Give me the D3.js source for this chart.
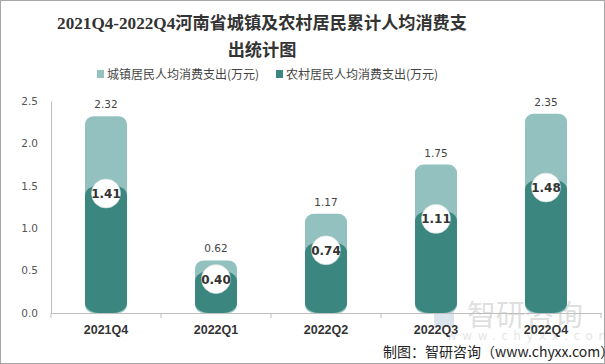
<!DOCTYPE html>
<html><head><meta charset="utf-8">
<script src="https://cdn.jsdelivr.net/npm/d3@7"></script>
<style>
html,body{margin:0;padding:0;background:#fff;}
svg{display:block;}
</style></head>
<body>
<svg id="chart" width="605" height="364"></svg>
<script>
const categories = ["2021Q4","2022Q1","2022Q2","2022Q3","2022Q4"];
const urbanValues = [2.32, 0.62, 1.17, 1.75, 2.35];
const ruralValues = [1.41, 0.40, 0.74, 1.11, 1.48];
const seriesNames = ["城镇居民人均消费支出(万元)","农村居民人均消费支出(万元)"];
const yTicks = [0, 0.5, 1.0, 1.5, 2.0, 2.5];
const titleLines = ["2021Q4-2022Q4河南省城镇及农村居民累计人均消费支","出统计图"];
const sourceText = "制图：智研咨询（www.chyxx.com）";
const watermarkText = "智研咨询";
const watermarkUrl = "www.chyxx.com";

const W = 605, H = 364;
const colUrban = "#92c1bf", colRural = "#3b877f";
const svg = d3.select("#chart");

svg.append("rect").attr("x",0.5).attr("y",0.5).attr("width",W-1).attr("height",H-1)
  .attr("fill","#fff").attr("stroke","#a6a6a6");

const x = d3.scaleBand().domain(categories).range([51, 601]).padding(0);
const y = d3.scaleLinear().domain([0, 2.5]).range([313, 101]);

// title (fit first line to the reference width of ~410px)
const title = svg.append("text").attr("text-anchor","middle")
  .attr("font-family","'Liberation Serif','Noto Sans CJK SC',serif")
  .attr("font-weight","bold").attr("font-size",18).attr("fill","#333");
const tspans = titleLines.map((t,i)=>title.append("tspan").attr("x",262).attr("y",29+i*27).text(t));
const len = tspans[0].node().getComputedTextLength();
if (len > 0) title.attr("font-size", Math.min(20, 18 * 410 / len));

// legend
const legend = svg.append("g").attr("font-family","'Noto Sans CJK SC',sans-serif").attr("font-size",12).attr("fill","#444");
const legX = [97, 276];
seriesNames.forEach((n,i)=>{
  legend.append("rect").attr("x",legX[i]).attr("y",70).attr("width",7).attr("height",8)
    .attr("fill", i===0?colUrban:colRural);
  legend.append("text").attr("x",legX[i]+10).attr("y",78.5).text(n);
});

// watermark (behind bars)
const wm = svg.append("g").attr("opacity",0.3);
wm.append("rect").attr("x",434).attr("y",307).attr("width",20).attr("height",20).attr("rx",3).attr("fill","#8aa6c4");
wm.append("text").attr("x",467).attr("y",326).attr("font-family","'Noto Sans CJK SC',sans-serif")
  .attr("font-size",29).attr("fill","#999").text(watermarkText);
wm.append("text").attr("x",447).attr("y",340).attr("font-family","'DejaVu Sans',sans-serif")
  .attr("font-size",12).attr("letter-spacing",5.5).attr("fill","#aaa").text(watermarkUrl);

// y axis
const yAxis = svg.append("g").attr("transform","translate(51,0)")
  .call(d3.axisLeft(y).tickValues(yTicks).tickFormat(d3.format(".1f")).tickSize(0).tickPadding(13));
yAxis.select(".domain").attr("stroke","#bfbfbf");
yAxis.selectAll("text").attr("font-family","'DejaVu Sans',sans-serif").attr("font-size",10.5).attr("fill","#555");

// x axis
const xAxis = svg.append("g").attr("transform","translate(0,313)")
  .call(d3.axisBottom(x).tickSize(0).tickPadding(12));
xAxis.select(".domain").attr("stroke","#bfbfbf");
xAxis.selectAll("text").attr("font-family","'Liberation Sans','DejaVu Sans',sans-serif")
  .attr("font-weight","bold").attr("font-size",12.5).attr("fill","#333");
const edges = categories.map(c=>x(c)).concat([x.range()[1]]);
svg.append("g").selectAll("line").data(edges).join("line")
  .attr("x1",d=>d).attr("x2",d=>d)
  .attr("y1",313).attr("y2",318).attr("stroke","#bfbfbf");

const bw = 42;
const cx = d => x(d) + x.bandwidth()/2;
const bars = svg.append("g");
categories.forEach((c,i)=>{
  const u = urbanValues[i], r = ruralValues[i];
  bars.append("rect").attr("x",cx(c)-bw/2).attr("y",y(u)).attr("width",bw).attr("height",y(0)-y(u))
    .attr("rx",9).attr("ry",8).attr("fill",colUrban);
  bars.append("rect").attr("x",cx(c)-bw/2).attr("y",y(r)-8).attr("width",bw).attr("height",y(0)-y(r)+8)
    .attr("rx",14).attr("ry",10).attr("fill",colRural);
  bars.append("text").attr("x",cx(c)).attr("y",y(u)-8).attr("text-anchor","middle")
    .attr("font-family","'DejaVu Sans',sans-serif").attr("font-size",10.5).attr("fill","#444")
    .text(d3.format(".2f")(u));
  bars.append("circle").attr("cx",cx(c)).attr("cy",y(r)).attr("r",14.5)
    .attr("fill","#fff").attr("stroke","#d0d8d8").attr("stroke-width",0.6);
  bars.append("text").attr("x",cx(c)).attr("y",y(r)+4.5).attr("text-anchor","middle")
    .attr("font-family","'DejaVu Sans',sans-serif").attr("font-weight","bold").attr("font-size",12).attr("fill","#333")
    .text(d3.format(".2f")(r));
});

// source
svg.append("text").attr("x",383).attr("y",357).attr("font-family","'Noto Sans CJK SC',sans-serif")
  .attr("font-size",14).attr("fill","#222").text(sourceText);
</script>
</body></html>
